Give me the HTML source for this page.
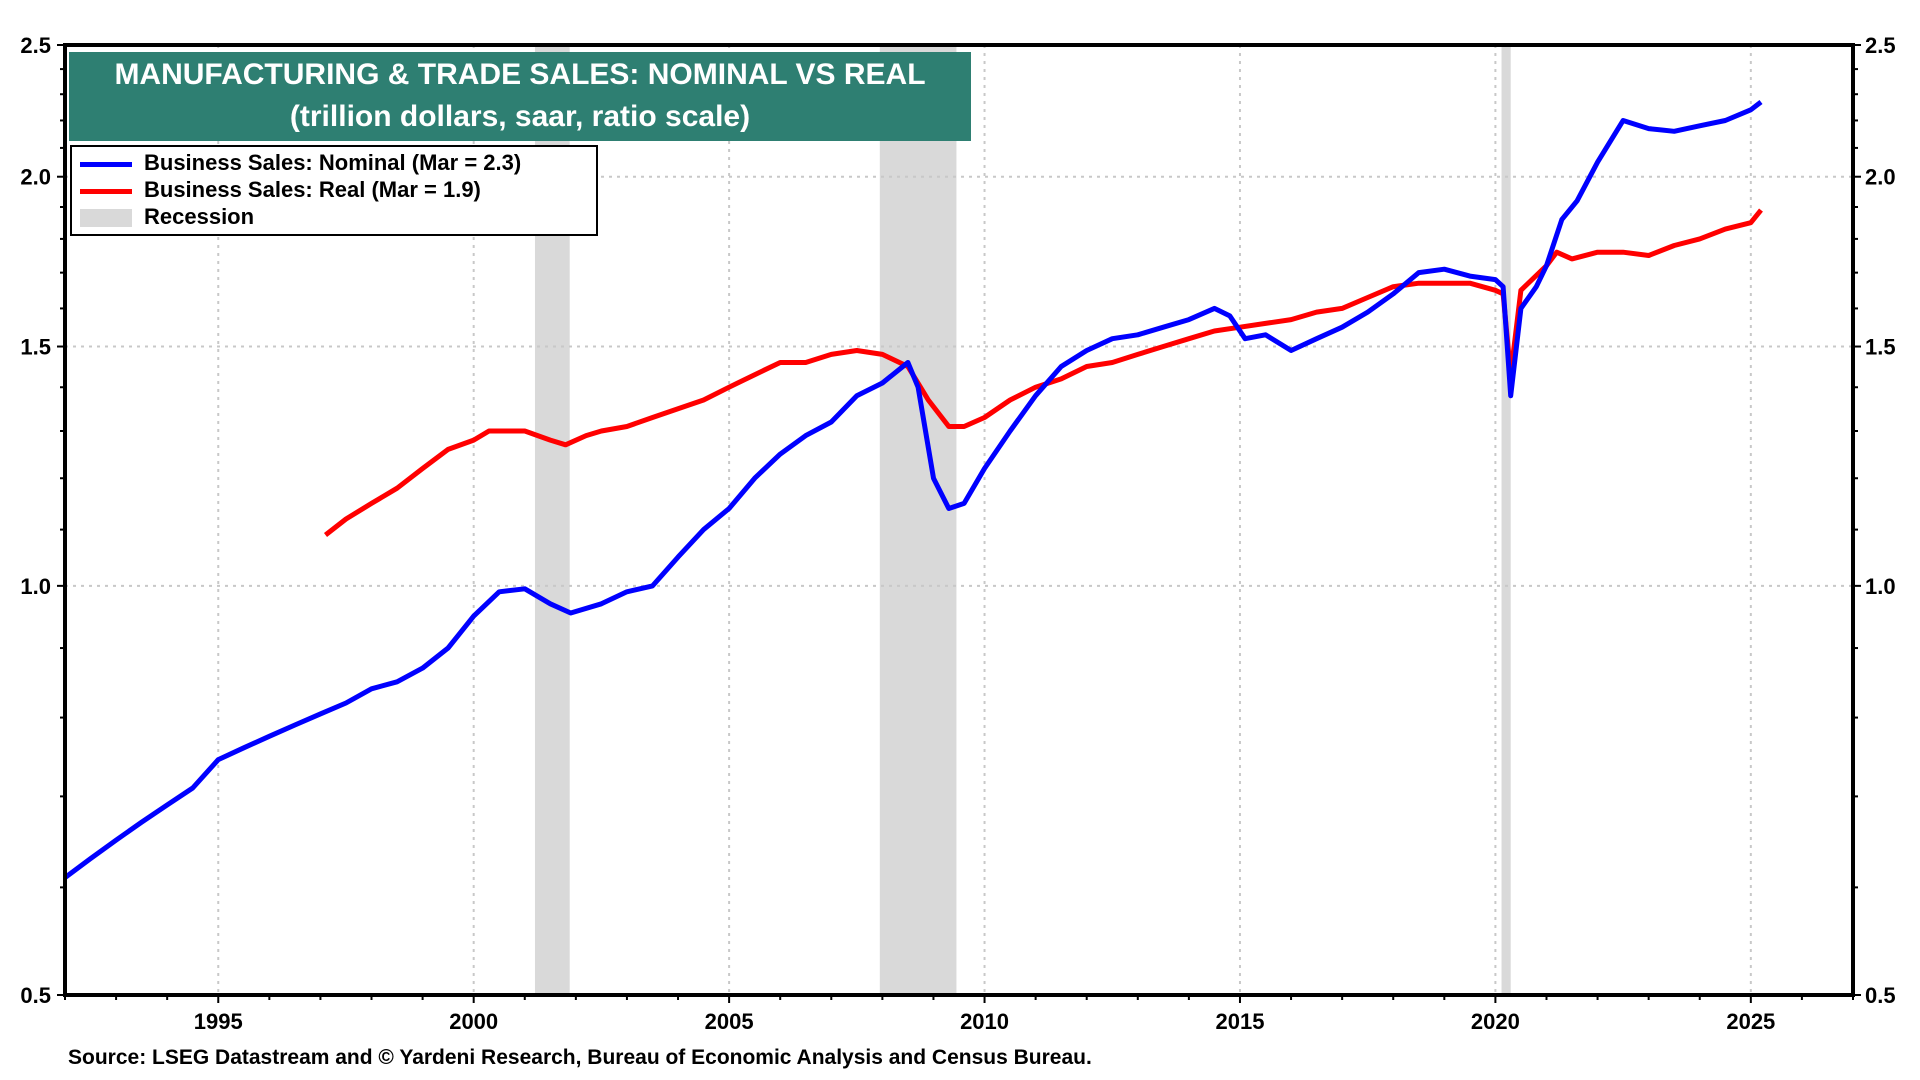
<!DOCTYPE html>
<html><head><meta charset="utf-8"><style>
html,body{margin:0;padding:0;background:#fff;width:1920px;height:1080px;overflow:hidden;font-family:"Liberation Sans",Arial,sans-serif;}
svg text{font-family:"Liberation Sans",Arial,sans-serif;font-weight:bold;}
</style></head><body>
<svg id="chart" width="1920" height="1080"></svg>
<script>
const nomYears=[1992.0,1992.5,1993,1993.5,1994,1994.5,1995,1995.5,1996,1996.5,1997,1997.5,1998,1998.5,1999,1999.5,2000.0,2000.5,2001.0,2001.5,2001.9,2002.5,2003,2003.5,2004,2004.5,2005,2005.5,2006,2006.5,2007,2007.5,2008,2008.5,2008.7,2009.0,2009.3,2009.6,2010,2010.5,2011,2011.5,2012,2012.5,2013,2013.5,2014,2014.5,2014.8,2015.1,2015.5,2016,2016.5,2017,2017.5,2018,2018.5,2019,2019.5,2020.0,2020.15,2020.3,2020.5,2020.8,2021.0,2021.3,2021.6,2022.0,2022.5,2023,2023.5,2024,2024.5,2025,2025.2];
const nomVals=[0.61,0.63,0.65,0.67,0.69,0.71,0.745,0.76,0.775,0.79,0.805,0.82,0.84,0.85,0.87,0.90,0.95,0.99,0.995,0.97,0.955,0.97,0.99,1.00,1.05,1.10,1.14,1.20,1.25,1.29,1.32,1.38,1.41,1.46,1.40,1.20,1.14,1.15,1.22,1.30,1.38,1.45,1.49,1.52,1.53,1.55,1.57,1.60,1.58,1.52,1.53,1.49,1.52,1.55,1.59,1.64,1.70,1.71,1.69,1.68,1.66,1.38,1.60,1.66,1.72,1.86,1.92,2.05,2.20,2.17,2.16,2.18,2.20,2.24,2.27];
const realYears=[1997.1,1997.5,1998,1998.5,1999,1999.5,2000.0,2000.3,2001,2001.5,2001.8,2002.2,2002.5,2003,2003.5,2004,2004.5,2005,2005.5,2006,2006.5,2007,2007.5,2008,2008.5,2008.9,2009.3,2009.6,2010,2010.5,2011,2011.5,2012,2012.5,2013,2013.5,2014,2014.5,2015,2015.5,2016,2016.5,2017,2017.5,2018,2018.5,2019,2019.5,2020.0,2020.15,2020.3,2020.5,2021.0,2021.2,2021.5,2022.0,2022.5,2023,2023.5,2024,2024.5,2025,2025.2];
const realVals=[1.09,1.12,1.15,1.18,1.22,1.26,1.28,1.30,1.30,1.28,1.27,1.29,1.30,1.31,1.33,1.35,1.37,1.40,1.43,1.46,1.46,1.48,1.49,1.48,1.45,1.37,1.31,1.31,1.33,1.37,1.40,1.42,1.45,1.46,1.48,1.50,1.52,1.54,1.55,1.56,1.57,1.59,1.60,1.63,1.66,1.67,1.67,1.67,1.65,1.64,1.43,1.65,1.72,1.76,1.74,1.76,1.76,1.75,1.78,1.80,1.83,1.85,1.89];
const recStart=[2001.2,2007.95,2020.12];
const recEnd=[2001.88,2009.45,2020.3];
const xTicks=[1995,2000,2005,2010,2015,2020,2025];
const yTicks=[0.5,1.0,1.5,2.0,2.5];

const L=65,R=1853,T=45,B=995,X0=1992,X1=2027,Y0=0.5,Y1=2.5;
const xs=v=>L+(v-X0)/(X1-X0)*(R-L);
const ys=v=>B-Math.log(v/Y0)/Math.log(Y1/Y0)*(B-T);
const svg=document.getElementById('chart');
const NS='http://www.w3.org/2000/svg';
function mk(tag,at,parent){const e=document.createElementNS(NS,tag);for(const k in at)e.setAttribute(k,at[k]);(parent||svg).appendChild(e);return e;}

recStart.forEach((s,i)=>{
 const r=mk('rect',{x:xs(s),y:T,width:xs(recEnd[i])-xs(s),height:B-T,fill:'#d9d9d9'});
 
 
});
xTicks.forEach(t=>{
 const g=mk('line',{x1:xs(t),x2:xs(t),y1:T,y2:B,stroke:'#c8c8c8','stroke-width':2,'stroke-dasharray':'3,5'});
 
 
});
yTicks.slice(1,4).forEach(t=>{
 const g=mk('line',{x1:L,x2:R,y1:ys(t),y2:ys(t),stroke:'#c8c8c8','stroke-width':2,'stroke-dasharray':'3,5'});
 
 
});
function series(xa,va,col,name){
 const d=xa.map((x,i)=>(i?'L':'M')+xs(x).toFixed(1)+','+ys(va[i]).toFixed(1)).join('');
 const p=mk('path',{d:d,fill:'none',stroke:col,'stroke-width':5,'stroke-linejoin':'round'});
 
 
}
series(realYears,realVals,'#ff0000','real-sales-line');
series(nomYears,nomVals,'#0000ff','nominal-sales-line');

const frame=mk('rect',{x:L,y:T,width:R-L,height:B-T,fill:'none',stroke:'#000','stroke-width':4});


for(let y=1992;y<=2027;y++){mk('line',{x1:xs(y),x2:xs(y),y1:B,y2:B+(y%5?5:8),stroke:'#000','stroke-width':2});}
const minor=[0.6,0.7,0.8,0.9,1.1,1.2,1.3,1.4,1.6,1.7,1.8,1.9,2.1,2.2,2.3,2.4];
minor.forEach(v=>{mk('line',{x1:L-5,x2:L,y1:ys(v),y2:ys(v),stroke:'#000','stroke-width':2});mk('line',{x1:R,x2:R+5,y1:ys(v),y2:ys(v),stroke:'#000','stroke-width':2});});
xTicks.forEach(t=>{
 const tx=mk('text',{x:xs(t),y:1029,'text-anchor':'middle','font-size':22});
 tx.textContent=t;
 
 
});
yTicks.forEach(t=>{
 mk('line',{x1:L-8,x2:L,y1:ys(t),y2:ys(t),stroke:'#000','stroke-width':2});
 mk('line',{x1:R,x2:R+8,y1:ys(t),y2:ys(t),stroke:'#000','stroke-width':2});
 const a=mk('text',{x:L-14,y:ys(t)+8,'text-anchor':'end','font-size':22});
 a.textContent=t.toFixed(1);
 
 
 const b=mk('text',{x:R+12,y:ys(t)+8,'text-anchor':'start','font-size':22});
 b.textContent=t.toFixed(1);
 
 
});
</script>
<div style="position:absolute;left:69px;top:52px;width:902px;height:89px;background:#2e7f72;color:#fff;text-align:center;font-weight:bold;font-size:30px;line-height:42px;padding-top:2px;box-sizing:border-box;">
<div>MANUFACTURING &amp; TRADE SALES: NOMINAL VS REAL</div>
<div>(trillion dollars, saar, ratio scale)</div>
</div>
<div style="position:absolute;left:70px;top:145px;width:528px;height:91px;border:2px solid #000;box-sizing:border-box;background:#fff;font-weight:bold;font-size:22px;line-height:27px;padding-top:2px;">
<div><span style="display:inline-block;width:52px;height:5px;background:#0000ff;margin:0 12px 0 8px;vertical-align:middle;"></span>Business Sales: Nominal (Mar = 2.3)</div>
<div><span style="display:inline-block;width:52px;height:5px;background:#ff0000;margin:0 12px 0 8px;vertical-align:middle;"></span>Business Sales: Real (Mar = 1.9)</div>
<div><span style="display:inline-block;width:52px;height:18px;background:#d9d9d9;margin:0 12px 0 8px;vertical-align:middle;"></span>Recession</div>
</div>
<div style="position:absolute;left:68px;top:1046px;font-weight:bold;font-size:21px;">Source: LSEG Datastream and © Yardeni Research, Bureau of Economic Analysis and Census Bureau.</div>
</body></html>
